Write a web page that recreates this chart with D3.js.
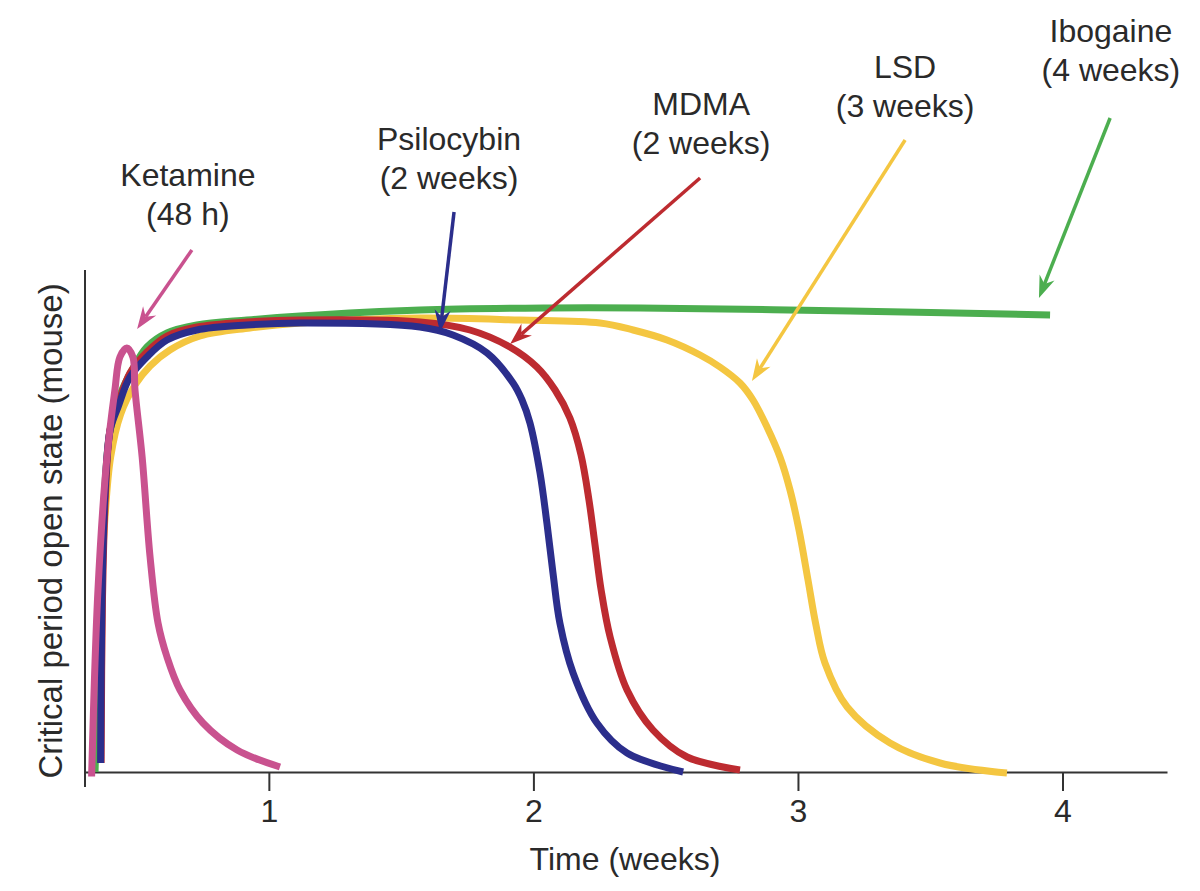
<!DOCTYPE html>
<html>
<head>
<meta charset="utf-8">
<script src="https://cdn.jsdelivr.net/npm/d3@7"></script>
<style>
  body { margin: 0; background: #fff; }
  text { font-family: "Liberation Sans", Arial, Helvetica, sans-serif; fill: #2a2a2a; }
</style>
</head>
<body>
<div id="chart"></div>
<script>
// [weeks, open state (0-1)]
var ketamine = [
  [0.330, -0.009], [0.354, 0.364], [0.388, 0.630], [0.418, 0.764], [0.437, 0.830],
  [0.463, 0.848], [0.486, 0.830], [0.494, 0.764], [0.521, 0.630], [0.551, 0.430],
  [0.581, 0.298], [0.615, 0.230], [0.664, 0.164], [0.751, 0.098], [0.880, 0.044],
  [1.042, 0.010]
];
var psilocybin = [
  [0.364, 0.018], [0.369, 0.344], [0.381, 0.564], [0.400, 0.684], [0.430, 0.730],
  [0.475, 0.790], [0.539, 0.830], [0.615, 0.864], [0.728, 0.884], [0.917, 0.894],
  [1.118, 0.898], [1.571, 0.890], [1.696, 0.874], [1.825, 0.838], [1.923, 0.778],
  [1.957, 0.744], [1.987, 0.698], [2.025, 0.598], [2.051, 0.498], [2.074, 0.398],
  [2.100, 0.298], [2.150, 0.198], [2.240, 0.098], [2.354, 0.038], [2.566, 0.000]
];
var mdma = [
  [0.366, 0.018], [0.371, 0.344], [0.383, 0.564], [0.401, 0.688], [0.430, 0.736],
  [0.475, 0.798], [0.539, 0.840], [0.615, 0.872], [0.728, 0.890], [0.917, 0.900],
  [1.118, 0.904], [1.571, 0.900], [1.760, 0.884], [1.911, 0.850], [2.013, 0.810],
  [2.082, 0.764], [2.138, 0.708], [2.180, 0.634], [2.210, 0.544], [2.233, 0.454],
  [2.256, 0.364], [2.290, 0.270], [2.354, 0.164], [2.452, 0.084], [2.581, 0.030],
  [2.781, 0.004]
];
var lsd = [
  [0.339, 0.000], [0.360, 0.304], [0.380, 0.504], [0.402, 0.630], [0.440, 0.716],
  [0.494, 0.774], [0.551, 0.812], [0.626, 0.844], [0.740, 0.872], [0.929, 0.888],
  [1.118, 0.898], [1.571, 0.908], [1.949, 0.904], [2.252, 0.898], [2.377, 0.884],
  [2.505, 0.864], [2.630, 0.834], [2.705, 0.810], [2.781, 0.778], [2.830, 0.744],
  [2.883, 0.690], [2.932, 0.630], [2.970, 0.564], [3.004, 0.484], [3.038, 0.384],
  [3.068, 0.294], [3.102, 0.218], [3.186, 0.130], [3.348, 0.058], [3.537, 0.018],
  [3.790, -0.002]
];
var ibogaine = [
  [0.343, 0.000], [0.358, 0.304], [0.377, 0.544], [0.400, 0.684], [0.437, 0.754],
  [0.483, 0.804], [0.539, 0.850], [0.615, 0.878], [0.728, 0.894], [0.917, 0.904],
  [1.118, 0.912], [1.571, 0.924], [2.063, 0.928], [2.403, 0.928], [3.197, 0.922],
  [3.953, 0.914]
];

var drugNames = ["Ketamine", "Psilocybin", "MDMA", "LSD", "Ibogaine"];
var drugDurations = ["(48 h)", "(2 weeks)", "(2 weeks)", "(3 weeks)", "(4 weeks)"];
// label anchor [weeks, value] of first line baseline
var labelPos = [[0.694, 1.172], [1.681, 1.244], [2.634, 1.314], [3.405, 1.388], [4.183, 1.460]];
// arrow [tail weeks, tail value, tip weeks, tip value]
var arrowPos = [
  [0.709, 1.044, 0.502, 0.886],
  [1.700, 1.120, 1.647, 0.880],
  [2.630, 1.188, 1.912, 0.856],
  [3.405, 1.264, 2.826, 0.782],
  [4.180, 1.308, 3.911, 0.948]
];
var xTicks = [1, 2, 3, 4];

var colors = {
  Ketamine: "#c9528f",
  Psilocybin: "#2b2e8c",
  MDMA: "#bd2b30",
  LSD: "#f4c641",
  Ibogaine: "#4cae4f"
};

var width = 1200, height = 891;

var svg = d3.select("#chart").append("svg")
  .attr("width", width)
  .attr("height", height);

var x = d3.scaleLinear().domain([0.305, 4.395]).range([85, 1167]);
var y = d3.scaleLinear().domain([0, 1]).range([772, 272]);

var line = d3.line()
  .x(d => x(d[0]))
  .y(d => y(d[1]))
  .curve(d3.curveCatmullRom.alpha(0.5));

// axes
svg.append("line")
  .attr("x1", x(0.305)).attr("x2", x(0.305))
  .attr("y1", y(1.004)).attr("y2", y(-0.03))
  .attr("stroke", "#333").attr("stroke-width", 2);

var xAxis = svg.append("g")
  .attr("transform", "translate(0," + y(0) + ")")
  .call(d3.axisBottom(x).tickValues(xTicks).tickFormat(d3.format("d"))
    .tickSize(19).tickSizeOuter(0).tickPadding(8));

xAxis.select(".domain").attr("stroke", "#333").attr("stroke-width", 2);
xAxis.selectAll(".tick line").attr("stroke", "#333").attr("stroke-width", 2);
xAxis.selectAll(".tick text")
  .attr("font-size", 32)
  .attr("fill", "#2a2a2a")
  .attr("font-family", "Liberation Sans, Arial, sans-serif");

svg.append("text")
  .attr("x", 625)
  .attr("y", 870)
  .attr("text-anchor", "middle")
  .attr("font-size", 32)
  .text("Time (weeks)");

svg.append("text")
  .attr("transform", "translate(62," + 531 + ") rotate(-90)")
  .attr("text-anchor", "middle")
  .attr("font-size", 33)
  .text("Critical period open state (mouse)");

// curves (drawing order matters for overlaps)
var series = [
  { name: "LSD", values: lsd },
  { name: "Ibogaine", values: ibogaine },
  { name: "MDMA", values: mdma },
  { name: "Psilocybin", values: psilocybin },
  { name: "Ketamine", values: ketamine }
];

svg.selectAll(".curve")
  .data(series)
  .join("path")
  .attr("class", "curve")
  .attr("d", d => line(d.values))
  .attr("fill", "none")
  .attr("stroke", d => colors[d.name])
  .attr("stroke-width", 7);

// arrows
arrowPos.forEach(function(a, i) {
  var c = colors[drugNames[i]];
  var x1 = x(a[0]), y1 = y(a[1]), x2 = x(a[2]), y2 = y(a[3]);
  var ang = Math.atan2(y2 - y1, x2 - x1);
  var len = 22, half = 8, notch = 15;
  var cos = Math.cos(ang), sin = Math.sin(ang);
  var bx = x2 - len * cos, by = y2 - len * sin;
  var nx = x2 - notch * cos, ny = y2 - notch * sin;

  svg.append("line")
    .attr("x1", x1).attr("y1", y1)
    .attr("x2", nx).attr("y2", ny)
    .attr("stroke", c)
    .attr("stroke-width", 3.5);

  svg.append("path")
    .attr("d", "M" + x2 + "," + y2 +
      "L" + (bx - half * sin) + "," + (by + half * cos) +
      "L" + nx + "," + ny +
      "L" + (bx + half * sin) + "," + (by - half * cos) + "Z")
    .attr("fill", c);
});

// labels
drugNames.forEach(function(name, i) {
  var t = svg.append("text")
    .attr("x", x(labelPos[i][0]))
    .attr("y", y(labelPos[i][1]))
    .attr("text-anchor", "middle")
    .attr("font-size", 32);
  t.append("tspan").attr("x", x(labelPos[i][0])).text(name);
  t.append("tspan").attr("x", x(labelPos[i][0])).attr("dy", 39).text(drugDurations[i]);
});
</script>
</body>
</html>
